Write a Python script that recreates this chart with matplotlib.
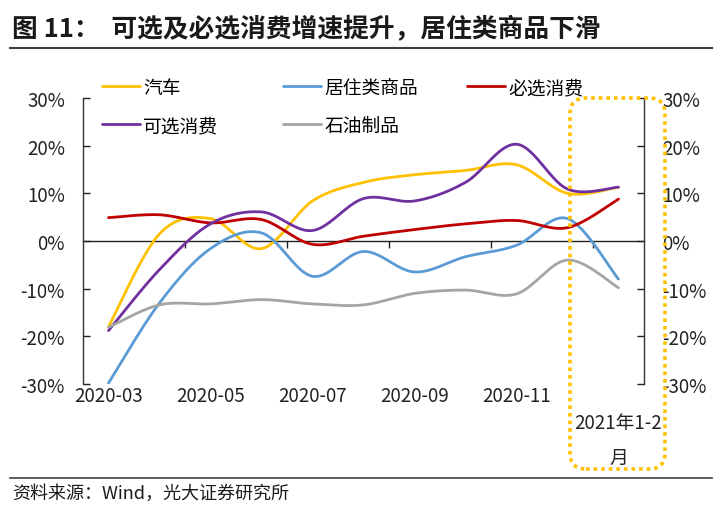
import numpy as np
import matplotlib
matplotlib.use('Agg')
import matplotlib.pyplot as plt
from matplotlib.patches import FancyBboxPatch
from matplotlib.transforms import blended_transform_factory

plt.rcParams['font.family'] = ['Noto Sans CJK SC', 'DejaVu Sans']

# ---------------- data ----------------
months = ['2020-03', '2020-04', '2020-05', '2020-06', '2020-07', '2020-08',
          '2020-09', '2020-10', '2020-11', '2020-12', '2021年1-2月']
tick_labels = ['2020-03', '2020-05', '2020-07', '2020-09', '2020-11', '2021年1-2\n月']
auto = [-18.0, 1.5, 4.7, -1.6, 8.4, 12.3, 13.9, 14.8, 16.0, 10.0, 11.3]          # 汽车
housing = [-29.8, -13.0, -1.6, 1.7, -7.4, -2.2, -6.5, -3.3, -0.9, 4.7, -8.0]     # 居住类商品
necessity = [4.9, 5.5, 3.8, 4.5, -0.7, 1.0, 2.4, 3.6, 4.3, 2.8, 8.8]             # 必选消费
optional = [-18.8, -6.0, 3.6, 6.1, 2.2, 8.9, 8.4, 12.3, 20.3, 10.9, 11.3]        # 可选消费
oil = [-18.1, -13.4, -13.2, -12.3, -13.2, -13.4, -11.0, -10.3, -11.1, -4.0, -9.8]  # 石油制品
series_names = ['汽车', '居住类商品', '必选消费', '可选消费', '石油制品']
series_values = [auto, housing, necessity, optional, oil]
colors = ['#FFC000', '#5B9BD5', '#C00000', '#7030A0', '#A5A5A5']
yticks = [-30, -20, -10, 0, 10, 20, 30]

FS = 13.5


def smooth(vals, n=40):
    """Excel-style smoothed line (Catmull-Rom Bezier through the data points)."""
    x = np.arange(len(vals), dtype=float)
    pts = np.column_stack([x, np.asarray(vals, dtype=float)])
    P = np.vstack([pts[0], pts, pts[-1]])
    out = []
    t = np.linspace(0, 1, n)[:, None]
    for i in range(len(pts) - 1):
        p0, p1, p2, p3 = P[i], P[i + 1], P[i + 2], P[i + 3]
        c1 = p1 + (p2 - p0) / 6.0
        c2 = p2 - (p3 - p1) / 6.0
        seg = (1 - t) ** 3 * p1 + 3 * (1 - t) ** 2 * t * c1 + 3 * (1 - t) * t ** 2 * c2 + t ** 3 * p2
        out.append(seg if i == 0 else seg[1:])
    return np.vstack(out)


fig = plt.figure(figsize=(7.2, 5.1), dpi=100)
ax = fig.add_axes([83 / 720, (510 - 385) / 510, (644 - 83) / 720, (385 - 99) / 510])

handles = {}
for name, vals, c in zip(series_names, series_values, colors):
    s = smooth(vals)
    ln, = ax.plot(s[:, 0], s[:, 1], color=c, lw=2.0, solid_capstyle='round')
    handles[name] = ln

ax.set_xlim(-0.5, len(months) - 0.5)
ax.set_ylim(-30, 30)
ax.set_yticks(yticks)
ax.set_yticklabels([f'{v}%' for v in yticks])
ax.tick_params(axis='y', which='major', direction='in', length=5, width=1,
               left=True, right=True, labelleft=True, labelright=True,
               labelsize=FS, pad=13, colors='#222222')
for sp in ['left', 'right']:
    ax.spines[sp].set_color('#333333')
    ax.spines[sp].set_linewidth(1)
ax.spines['top'].set_visible(False)
ax.spines['bottom'].set_visible(False)

# category labels at the bottom (every second month)
label_pos = list(range(0, len(months), 2))
ax.set_xticks(label_pos[:-1])
ax.set_xticklabels(tick_labels[:-1])
ax.tick_params(axis='x', length=0, labelsize=FS, pad=0.5, colors='#222222')
trans = blended_transform_factory(ax.transData, fig.transFigure)
ax.text(label_pos[-1], (510 - 441) / 510, tick_labels[-1], transform=trans,
        ha='center', va='center', fontsize=FS, linespacing=1.85, color='#222222',
        multialignment='center')

# zero line with category boundary ticks
sec = ax.secondary_xaxis(0, transform=ax.transData)
sec.set_xticks([p - 0.5 for p in label_pos[1:]])
sec.tick_params(axis='x', direction='out', length=5, width=1, labelbottom=False,
                labeltop=False, colors='#222222')
for sp in sec.spines.values():
    sp.set_color('#222222')
    sp.set_linewidth(1)

# legend: three columns placed individually
columns = [(['汽车', '可选消费'], 102), (['居住类商品', '石油制品'], 283), (['必选消费'], 467)]
for names, xpix in columns:
    fig.legend([handles[k] for k in names], names, loc='upper left',
               bbox_to_anchor=(xpix / 720, (510 - 78) / 510), frameon=False,
               fontsize=FS, handlelength=2.0, handletextpad=0.2,
               labelspacing=0.9, borderpad=0, borderaxespad=0)

# highlight box for the latest month
box = FancyBboxPatch((5.70, 0.40), 0.95, 3.71, boxstyle='round,pad=0,rounding_size=0.16',
                     transform=fig.dpi_scale_trans, fill=False, edgecolor='#FFC000',
                     linewidth=2.6, linestyle=(0, (1, 1.1)), zorder=10)
fig.patches.append(box)

# title and source
fig.text(12 / 720, (510 - 29) / 510, '图 11：  可选及必选消费增速提升，居住类商品下滑',
         fontsize=18.5, fontweight='bold', va='center', ha='left', color='#1a1a1a')
fig.add_artist(plt.Line2D([10 / 720, 712 / 720], [(510 - 49) / 510] * 2,
                          transform=fig.transFigure, color='#404040', lw=1.5))
fig.add_artist(plt.Line2D([10 / 720, 712 / 720], [(510 - 479) / 510] * 2,
                          transform=fig.transFigure, color='#404040', lw=1.2))
fig.text(12 / 720, (510 - 494) / 510, '资料来源：Wind，光大证券研究所',
         fontsize=13, va='center', ha='left', color='#1a1a1a')

fig.savefig('out.png', dpi=100)
